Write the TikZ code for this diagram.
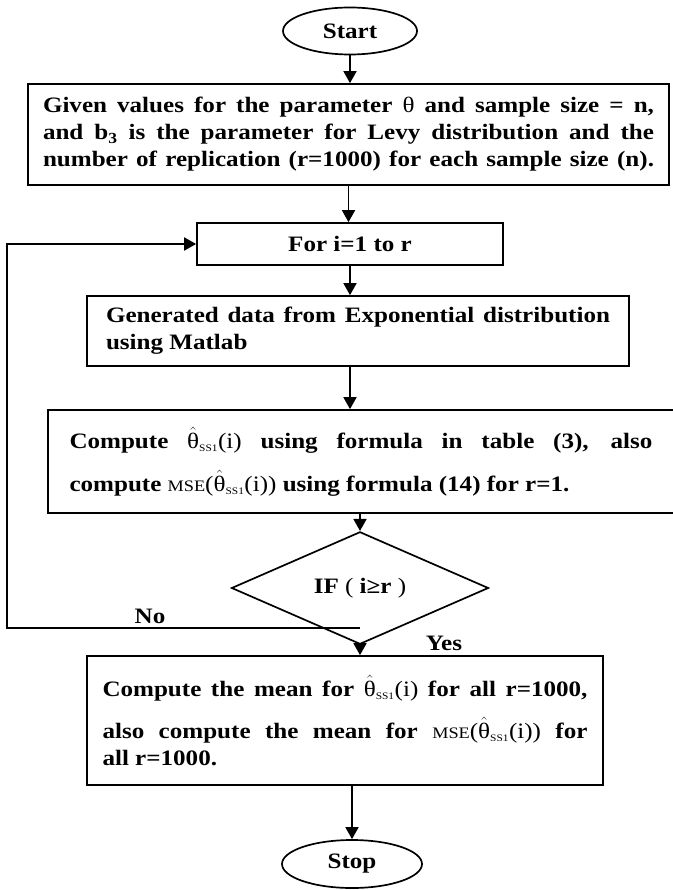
\documentclass[tikz,border=0pt]{standalone}
\usepackage{fontspec}
\setmainfont{Liberation Serif}[FakeStretch=1.14]
\usetikzlibrary{shapes.geometric,arrows.meta}
\newcommand{\thh}{{\mdseries\ensuremath{\hat{\mbox{θ}}}\textsubscript{\fontsize{10}{10}\selectfont SS1}(i)}}
\newcommand{\jl}[2]{\makebox[#1][s]{#2}}
\newcommand{\mse}{{\mdseries\fontsize{16}{16}\selectfont MSE}{\mdseries (}}
\begin{document}
\begin{tikzpicture}[x=1pt,y=-1pt,
  every node/.style={font=\fontsize{22}{27}\selectfont\bfseries},
  ln/.style={line width=1.7pt},
  arr/.style={ln,-{Triangle[length=12pt,width=13pt]}},
  blk/.style={draw,ln,rectangle,inner sep=0pt,align=left},
  term/.style={draw,ln,ellipse,inner sep=0pt}]
\useasboundingbox (0,0) rectangle (672,890);
\fill[white] (0,0) rectangle (672,890);

\node[term,minimum width=134pt,minimum height=47pt] (start) at (350,31) {Start};
\node[blk,minimum width=641pt,minimum height=101pt] (box1) at (348.5,134.5)
  {\jl{611pt}{Given values for the parameter {\mdseries θ} and sample size = n,}\\
   \jl{611pt}{and b\textsubscript{3} is the parameter for Levy distribution and the}\\
   \jl{611pt}{number of replication (r=1000) for each sample size (n).}};
\node[blk,minimum width=306pt,minimum height=42pt,align=center] (for) at (350,244) {For i=1 to r};
\node[blk,minimum width=542pt,minimum height=70pt] (gen) at (358,331)
  {\jl{504pt}{Generated data from Exponential distribution}\\ using Matlab};
\node[blk,minimum width=626pt,minimum height=103pt] (comp) at (361,461.5)
  {\jl{583pt}{Compute \thh\ using formula in table (3), also}\\[16pt]
   compute \mse\thh{\mdseries )} using formula (14) for r=1.};
\node[draw,ln,diamond,minimum width=257pt,minimum height=61pt,inner sep=0pt] (dec) at (360,588)
  {IF {\mdseries (} i≥r {\mdseries )}};
\node[blk,minimum width=516pt,minimum height=129pt] (fin) at (345,720.5)
  {\jl{485pt}{Compute the mean for \thh\ for all r=1000,}\\[15pt]
   \jl{485pt}{also compute the mean for \mse\thh{\mdseries )} for}\\
   all r=1000.};
\node[term,minimum width=140pt,minimum height=48pt] (stop) at (352,864) {Stop};
\node (no) at (150,616) {No};
\node (yes) at (444,643) {Yes};

\coordinate (j) at (360,628);
\coordinate (lb) at (7,628);
\coordinate (lt) at (7,244);

\draw[arr] (start.south) -- (start.south |- box1.north);
\draw[arr] (box1.south) -- (box1.south |- for.north);
\draw[arr] (for.south) -- (for.south |- gen.north);
\draw[arr] (for.south |- gen.south) -- (for.south |- comp.north);
\draw[arr] (dec.north |- comp.south) -- (dec.north);
\draw[arr] (dec.south) -- (dec.south |- fin.north);
\draw[arr] (stop.north |- fin.south) -- (stop.north);
\draw[arr] (j) -- (lb) -- (lt) -- (for.west);
\end{tikzpicture}
\end{document}
